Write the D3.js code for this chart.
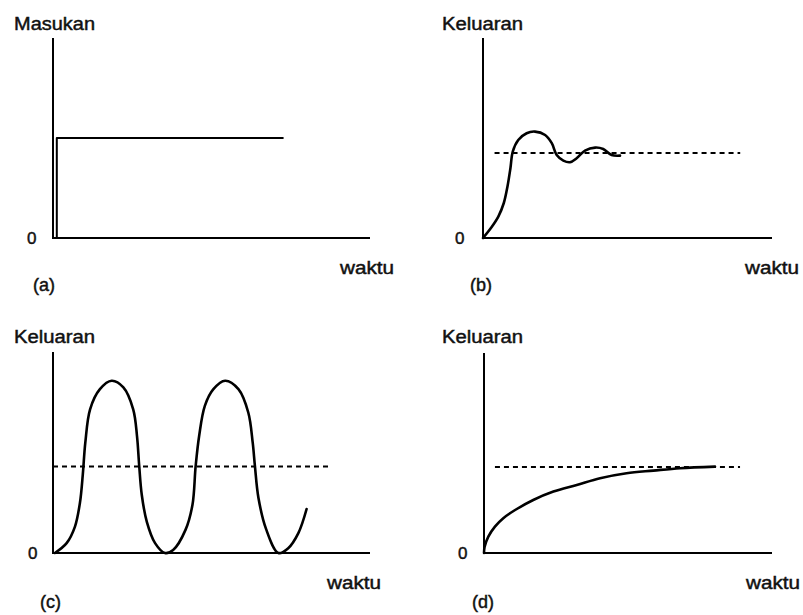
<!DOCTYPE html>
<html>
<head>
<meta charset="utf-8">
<script src="https://cdn.jsdelivr.net/npm/d3@7"></script>
<style>
  html, body { margin: 0; padding: 0; background: #fff; }
  svg { display: block; }
  text { font-family: "Liberation Sans", Arial, sans-serif; fill: #111; stroke: #111; stroke-width: 0.45px; }
</style>
</head>
<body>
<svg id="chart" width="803" height="615"></svg>
<script>
// ---- data (time units on x, response units on y) ----
const panelIds = ["a", "b", "c", "d"];
const yTitles = ["Masukan", "Keluaran", "Keluaran", "Keluaran"];
const xTitle = "waktu";
const zeroLabel = "0";

// (a) unit step input
const stepInput = [[0.12, 0], [0.12, 5.0], [7.25, 5.0]];

// (b) damped oscillation settling on the set point
const setPointB = 4.25;
const responseB = [
  [0, 0], [0.3, 0.55], [0.53, 1.07], [0.72, 1.75], [0.85, 2.6], [0.95, 3.5],
  [1.03, 4.32], [1.22, 4.9], [1.51, 5.24], [1.8, 5.32], [2.15, 5.15],
  [2.38, 4.74], [2.55, 4.15], [2.78, 3.87], [3.01, 3.79], [3.24, 3.99],
  [3.53, 4.37], [3.88, 4.52], [4.16, 4.45], [4.45, 4.15], [4.74, 4.12]
];

// (c) sustained oscillation
const setPointC = 4.3;
const responseC = [
  [0.06, 0], [0.43, 0.49], [0.69, 1.3], [0.85, 2.5], [0.94, 3.9], [1.02, 5.5],
  [1.17, 7.15], [1.48, 8.15], [1.85, 8.57], [2.22, 8.24], [2.53, 7.15],
  [2.65, 5.82], [2.72, 4.32], [2.8, 2.9], [2.96, 1.55], [3.22, 0.49],
  [3.53, 0], [3.79, 0.15], [4.18, 1.15], [4.4, 2.4], [4.5, 4.32],
  [4.61, 5.82], [4.79, 7.32], [5.06, 8.15], [5.43, 8.57], [5.85, 8.15],
  [6.16, 6.99], [6.3, 5.49], [6.37, 4.32], [6.48, 2.75], [6.72, 1.2],
  [7.11, 0], [7.42, 0.24], [7.74, 0.99], [8.0, 2.19]
];

// (d) overdamped rise toward the set point
const setPointD = 4.3;
const responseD = [
  [0, 0], [0.02, 0.3], [0.15, 0.82], [0.38, 1.32], [0.67, 1.74], [1.08, 2.15],
  [1.71, 2.65], [2.41, 3.07], [3.22, 3.4], [4.03, 3.74], [4.95, 3.99],
  [5.88, 4.12], [6.81, 4.24], [8.02, 4.32]
];

// set-point line extents [start, end] in time units
const setLineB = [0.4, 8.9];
const setLineC = [0, 8.8];
const setLineD = [0.38, 8.89];

// ---- layout ----
const panels = [
  { id: "a", x0: 53,  x1: 370, yBase: 238, yTop: 38,  titleX: 14,  titleY: 30,  zeroX: 27,  waktuX: 340, waktuY: 274, tagX: 33,  tagY: 291 },
  { id: "b", x0: 483, x1: 772, yBase: 238, yTop: 38,  titleX: 442, titleY: 30,  zeroX: 455, waktuX: 745, waktuY: 274, tagX: 470, tagY: 291 },
  { id: "c", x0: 53,  x1: 370, yBase: 553, yTop: 352, titleX: 14,  titleY: 343, zeroX: 28,  waktuX: 327, waktuY: 589, tagX: 40,  tagY: 608 },
  { id: "d", x0: 484, x1: 772, yBase: 553, yTop: 353, titleX: 442, titleY: 343, zeroX: 458, waktuX: 746, waktuY: 589, tagX: 472, tagY: 608 }
];

const series = {
  a: { line: stepInput, curve: d3.curveLinear, set: null },
  b: { line: responseB, curve: d3.curveCatmullRom.alpha(0.5), set: { y: setPointB, ext: setLineB } },
  c: { line: responseC, curve: d3.curveCatmullRom.alpha(0.5), set: { y: setPointC, ext: setLineC } },
  d: { line: responseD, curve: d3.curveCatmullRom.alpha(0.5), set: { y: setPointD, ext: setLineD } }
};

const svg = d3.select("#chart");

panels.forEach((p, i) => {
  const x = d3.scaleLinear().domain([0, 10]).range([p.x0, p.x1]);
  const y = d3.scaleLinear().domain([0, 10]).range([p.yBase, p.yTop]);
  const g = svg.append("g").attr("class", "panel-" + p.id);

  // axes
  g.append("line")
    .attr("x1", x(0)).attr("x2", x(0))
    .attr("y1", y(0) + 1).attr("y2", y(10))
    .attr("stroke", "#000").attr("stroke-width", 2);
  g.append("line")
    .attr("x1", x(0) - 1).attr("x2", x(10))
    .attr("y1", y(0)).attr("y2", y(0))
    .attr("stroke", "#000").attr("stroke-width", 2);

  const s = series[p.id];

  // set-point reference
  if (s.set) {
    g.append("line")
      .attr("x1", x(s.set.ext[0])).attr("x2", x(s.set.ext[1]))
      .attr("y1", y(s.set.y)).attr("y2", y(s.set.y))
      .attr("stroke", "#000").attr("stroke-width", 2)
      .attr("stroke-dasharray", "5,4");
  }

  // signal
  const line = d3.line().x(d => x(d[0])).y(d => y(d[1])).curve(s.curve);
  g.append("path")
    .datum(s.line)
    .attr("d", line)
    .attr("fill", "none")
    .attr("stroke", "#000")
    .attr("stroke-width", p.id === "a" ? 2 : 2.6)
    .attr("stroke-linejoin", "round")
    .attr("stroke-linecap", "round");

  // labels
  g.append("text").attr("x", p.titleX).attr("y", p.titleY)
    .attr("font-size", 18).attr("textLength", 81).attr("lengthAdjust", "spacingAndGlyphs")
    .text(yTitles[i]);
  g.append("text").attr("x", p.zeroX).attr("y", y(0) + 6)
    .attr("font-size", 17).text(zeroLabel);
  g.append("text").attr("x", p.waktuX).attr("y", p.waktuY)
    .attr("font-size", 18).attr("textLength", 54).attr("lengthAdjust", "spacingAndGlyphs")
    .text(xTitle);
  g.append("text").attr("x", p.tagX).attr("y", p.tagY)
    .attr("font-size", 18).text("(" + panelIds[i] + ")");
});
</script>
</body>
</html>
